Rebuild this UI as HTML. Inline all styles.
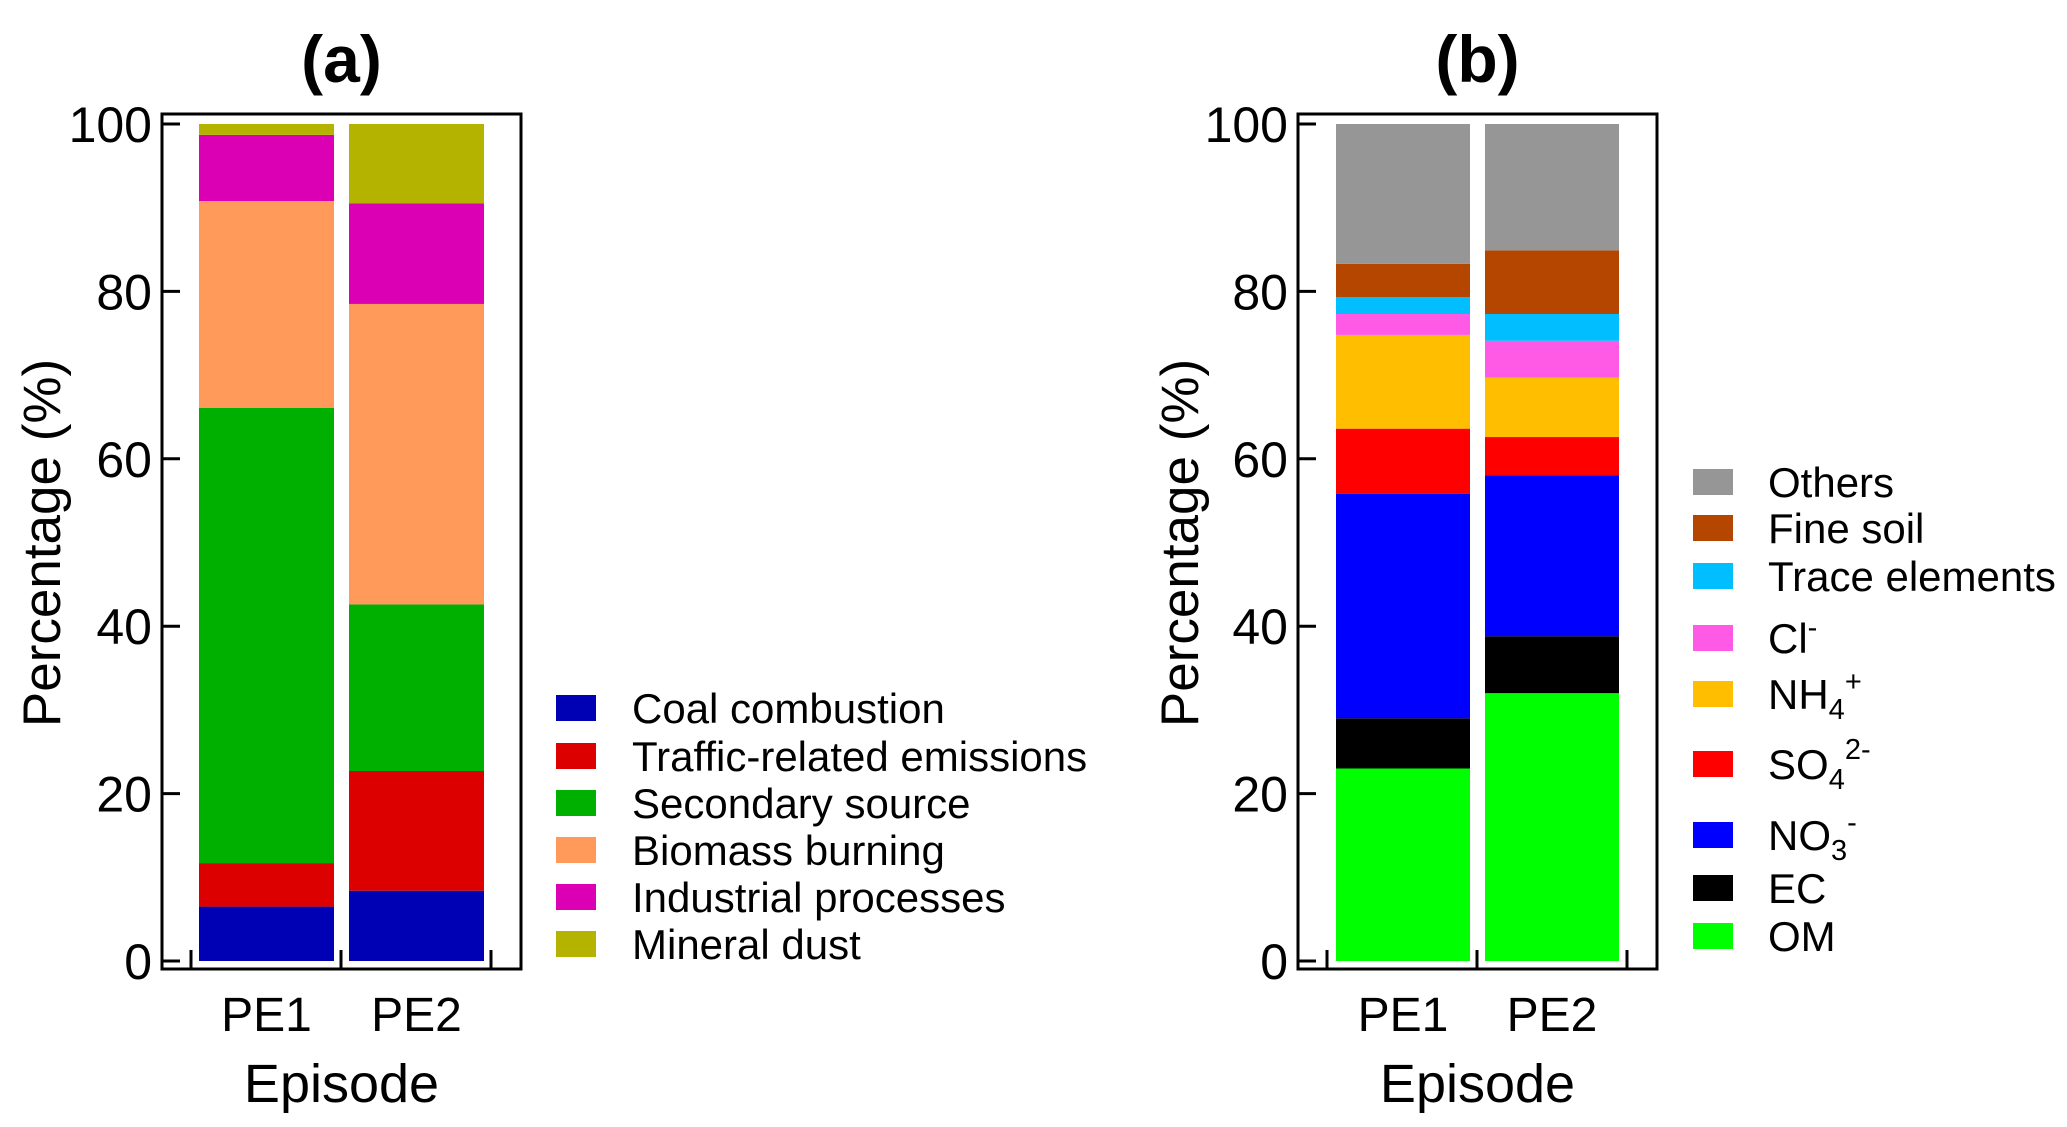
<!DOCTYPE html>
<html><head><meta charset="utf-8"><style>
html,body{margin:0;padding:0;background:#fff;}
svg{display:block;font-family:"Liberation Sans",Arial,sans-serif;}
</style></head><body>
<svg id="chart" width="2067" height="1127" viewBox="0 0 2067 1127" xmlns="http://www.w3.org/2000/svg"></svg>
<script>
const categories = ["PE1","PE2"];
const ticksY = [0,20,40,60,80,100];
// Panel (a)
const seriesA = ["Coal combustion","Traffic-related emissions","Secondary source","Biomass burning","Industrial processes","Mineral dust"];
const colorsA = ["#0000b4","#dc0000","#00b000","#ff9a5a","#dc00b4","#b4b400"];
const valuesA_PE1 = [6.5,5.2,54.4,24.7,7.9,1.3];
const valuesA_PE2 = [8.4,14.3,19.9,35.9,12.0,9.5];
// Panel (b)
const seriesB = ["OM","EC","NO3","SO4","NH4","Cl","Trace elements","Fine soil","Others"];
const colorsB = ["#00ff00","#000000","#0000ff","#ff0000","#ffbe00","#ff5ae6","#00beff","#b44600","#969696"];
const valuesB_PE1 = [23.0,6.0,26.8,7.8,11.2,2.5,2.0,4.0,16.7];
const valuesB_PE2 = [32.0,6.8,19.2,4.6,7.1,4.4,3.2,7.6,15.1];

const NS="http://www.w3.org/2000/svg";
const svg=document.getElementById('chart');
function mk(tag,attrs,parent){const e=document.createElementNS(NS,tag);for(const k in attrs)e.setAttribute(k,attrs[k]);(parent||svg).appendChild(e);return e;}

function panel(cfg){
  const g=mk('g',{});
  
  
  const y=v=>cfg.y0+(cfg.y100-cfg.y0)*v/100;
  cfg.values.forEach((vals,ci)=>{
    let acc=0;
    vals.forEach((v,si)=>{
      const r=mk('rect',{x:cfg.barX[ci],y:y(acc+v),width:cfg.barW,height:y(acc)-y(acc+v),fill:cfg.colors[si]},g);
      
      
      acc+=v;
    });
  });
  const f=mk('rect',{x:cfg.L,y:cfg.T,width:cfg.R-cfg.L,height:cfg.B-cfg.T,fill:'none',stroke:'#000','stroke-width':3},g);
  
  
  ticksY.forEach(t=>{
    mk('line',{x1:cfg.L,x2:cfg.L+18,y1:y(t),y2:y(t),stroke:'#000','stroke-width':3},g);
    const tx=mk('text',{x:cfg.L-10,y:y(t)+18,'font-size':50,'text-anchor':'end'},g);
    tx.textContent=t;
    
    
  });
  cfg.xTicks.forEach(x=>mk('line',{x1:x,x2:x,y1:cfg.B,y2:cfg.B-19,stroke:'#000','stroke-width':3},g));
  categories.forEach((c,i)=>{
    const tx=mk('text',{x:cfg.barX[i]+cfg.barW/2,y:1031,'font-size':48,'text-anchor':'middle'},g);
    tx.textContent=c;
    
    
  });
  const xt=mk('text',{x:(cfg.L+cfg.R)/2,y:1102,'font-size':54,'text-anchor':'middle'},g);
  xt.textContent='Episode';
  
  
  const yt=mk('text',{x:0,y:0,'font-size':53,'text-anchor':'middle',transform:`translate(${cfg.yTitleX},543) rotate(-90)`},g);
  yt.textContent='Percentage (%)';
  
  
  const tt=mk('text',{x:(cfg.L+cfg.R)/2,y:82,'font-size':66,'font-weight':'bold','text-anchor':'middle'},g);
  tt.textContent=cfg.title;
  
  
  cfg.legend.forEach(le=>{
    const lg=mk('g',{},g);
    
    
    mk('rect',{x:cfg.legX,y:le.y-13,width:cfg.legW,height:26,fill:cfg.colors[le.i]},lg);
    const tx=mk('text',{x:cfg.legTX,y:le.y+15,'font-size':42},lg);
    tx.innerHTML=le.html||cfg.series[le.i];
  });
}

panel({name:'panel-a',title:'(a)',L:162,R:521,T:114,B:969,y0:961,y100:124,barX:[199,349],barW:135,
  xTicks:[191,341,491],yTitleX:60,values:[valuesA_PE1,valuesA_PE2],series:seriesA,colors:colorsA,
  legX:556,legW:40,legTX:632,
  legend:[{i:0,y:708},{i:1,y:756},{i:2,y:803},{i:3,y:850},{i:4,y:897},{i:5,y:944}]});

panel({name:'panel-b',title:'(b)',L:1298,R:1657,T:114,B:969,y0:961,y100:124,barX:[1336,1485],barW:134,
  xTicks:[1327,1477,1627],yTitleX:1198,values:[valuesB_PE1,valuesB_PE2],series:seriesB,colors:colorsB,
  legX:1693,legW:40,legTX:1768,
  legend:[{i:8,y:482},{i:7,y:528},{i:6,y:576},
    {i:5,y:638,html:'Cl<tspan dy="-16" font-size="29">-</tspan>'},
    {i:4,y:694,html:'NH<tspan dy="10" font-size="29">4</tspan><tspan dy="-28" font-size="29">+</tspan>'},
    {i:3,y:764,html:'SO<tspan dy="10" font-size="29">4</tspan><tspan dy="-30" font-size="29">2-</tspan>'},
    {i:2,y:835,html:'NO<tspan dy="10" font-size="29">3</tspan><tspan dy="-28" font-size="29">-</tspan>'},
    {i:1,y:888},{i:0,y:936}]});
</script>
</body></html>
